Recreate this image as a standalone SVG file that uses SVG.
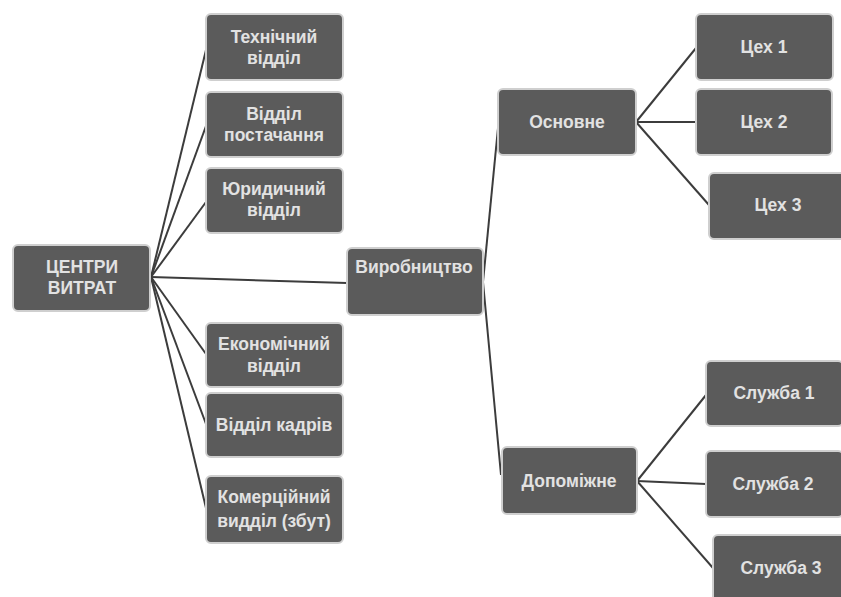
<svg xmlns="http://www.w3.org/2000/svg" width="841" height="597" viewBox="0 0 841 597">
<style>
.box{fill:#5b5b5b;stroke:#cfcfcf;stroke-width:2}
.t{font-family:"Liberation Sans",Arial,sans-serif;font-weight:bold;font-size:17.5px;fill:#e2e2e2;text-anchor:middle}
.c{stroke:#3c3c3c;stroke-width:2;fill:none}
</style>
<rect width="841" height="597" fill="#ffffff"/>
<g id="connectors">
<line class="c" x1="151" y1="277" x2="206" y2="50"/>
<line class="c" x1="151" y1="277" x2="206" y2="126"/>
<line class="c" x1="151" y1="277" x2="206" y2="202"/>
<line class="c" x1="151" y1="277" x2="347" y2="283"/>
<line class="c" x1="151" y1="277" x2="206" y2="354"/>
<line class="c" x1="151" y1="277" x2="206" y2="424"/>
<line class="c" x1="151" y1="277" x2="206" y2="508"/>
<line class="c" x1="483" y1="282" x2="498" y2="128"/>
<line class="c" x1="483" y1="282" x2="501" y2="475"/>
<line class="c" x1="636" y1="122" x2="696" y2="48"/>
<line class="c" x1="636" y1="122" x2="696" y2="122"/>
<line class="c" x1="636" y1="122" x2="709" y2="205"/>
<line class="c" x1="637" y1="481" x2="706" y2="395"/>
<line class="c" x1="637" y1="481" x2="706" y2="484"/>
<line class="c" x1="637" y1="481" x2="713" y2="568"/>
</g>
<g id="centry">
<rect class="box" x="13" y="245" width="137" height="66" rx="5"/>
<text class="t" x="82" y="273">ЦЕНТРИ</text>
<text class="t" x="82" y="294">ВИТРАТ</text>
</g>
<g id="tekhnichnyi">
<rect class="box" x="206" y="14" width="137" height="66" rx="5"/>
<text class="t" x="274" y="43">Технічний</text>
<text class="t" x="274" y="64">відділ</text>
</g>
<g id="postachannia">
<rect class="box" x="206" y="92" width="137" height="65" rx="5"/>
<text class="t" x="274" y="120">Відділ</text>
<text class="t" x="274" y="141">постачання</text>
</g>
<g id="yurydychnyi">
<rect class="box" x="206" y="168" width="137" height="65" rx="5"/>
<text class="t" x="274" y="195">Юридичний</text>
<text class="t" x="274" y="216">відділ</text>
</g>
<g id="ekonomichnyi">
<rect class="box" x="206" y="323" width="137" height="64" rx="5"/>
<text class="t" x="274" y="350">Економічний</text>
<text class="t" x="274" y="372">відділ</text>
</g>
<g id="kadry">
<rect class="box" x="206" y="393" width="137" height="64" rx="5"/>
<text class="t" x="274" y="431">Відділ кадрів</text>
</g>
<g id="komertsiinyi">
<rect class="box" x="206" y="476" width="137" height="67" rx="5"/>
<text class="t" x="274" y="503">Комерційний</text>
<text class="t" x="274" y="527">видділ (збут)</text>
</g>
<g id="vyrobnytstvo">
<rect class="box" x="347" y="248" width="136" height="67" rx="5"/>
<text class="t" x="414" y="273">Виробництво</text>
</g>
<g id="osnovne">
<rect class="box" x="498" y="89" width="138" height="66" rx="5"/>
<text class="t" x="567" y="128">Основне</text>
</g>
<g id="dopomizhne">
<rect class="box" x="502" y="447" width="135" height="67" rx="5"/>
<text class="t" x="569" y="487">Допоміжне</text>
</g>
<g id="tsekh1">
<rect class="box" x="696" y="14" width="137" height="66" rx="5"/>
<text class="t" x="764" y="53">Цех 1</text>
</g>
<g id="tsekh2">
<rect class="box" x="696" y="89" width="136" height="66" rx="5"/>
<text class="t" x="764" y="128">Цех 2</text>
</g>
<g id="tsekh3">
<rect class="box" x="709" y="173" width="137" height="66" rx="5"/>
<text class="t" x="778" y="211">Цех 3</text>
</g>
<g id="sluzhba1">
<rect class="box" x="706" y="361" width="137" height="65" rx="5"/>
<text class="t" x="774" y="399">Служба 1</text>
</g>
<g id="sluzhba2">
<rect class="box" x="706" y="451" width="137" height="66" rx="5"/>
<text class="t" x="773" y="490">Служба 2</text>
</g>
<g id="sluzhba3">
<rect class="box" x="713" y="535" width="137" height="66" rx="5"/>
<text class="t" x="781" y="574">Служба 3</text>
</g>
</svg>
